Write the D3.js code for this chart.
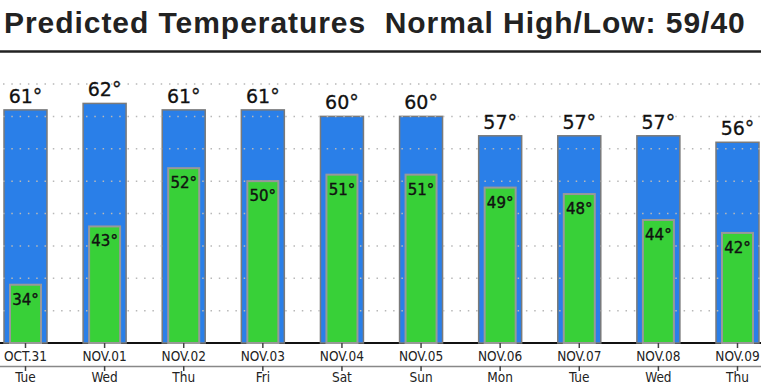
<!DOCTYPE html>
<html>
<head>
<meta charset="utf-8">
<script src="https://cdn.jsdelivr.net/npm/d3@7"></script>
<style>
  body { margin: 0; background: #fff; }
  svg { display: block; }
</style>
</head>
<body>
<div id="chart"></div>
<script>
// Chart data
const dates = ["OCT.31", "NOV.01", "NOV.02", "NOV.03", "NOV.04", "NOV.05", "NOV.06", "NOV.07", "NOV.08", "NOV.09"];
const days = ["Tue", "Wed", "Thu", "Fri", "Sat", "Sun", "Mon", "Tue", "Wed", "Thu"];
const highs = [61, 62, 61, 61, 60, 60, 57, 57, 57, 56];
const lows = [34, 43, 52, 50, 51, 51, 49, 48, 44, 42];
const gridTicks = [30, 35, 40, 45, 50, 55, 60, 65];

const width = 761, height = 385;
const baseY = 343;

const svg = d3.select("#chart")
    .append("svg")
    .attr("width", width)
    .attr("height", height);

// Title
svg.append("text")
    .attr("x", 4)
    .attr("y", 33)
    .attr("font-family", "Liberation Sans, Arial, sans-serif")
    .attr("font-weight", "bold")
    .attr("font-size", 30)
    .attr("letter-spacing", 0.95)
    .attr("fill", "#222")
    .attr("xml:space", "preserve")
    .text("Predicted Temperatures  Normal High/Low: 59/40");

svg.append("line")
    .attr("x1", 0).attr("x2", width)
    .attr("y1", 51.5).attr("y2", 51.5)
    .attr("stroke", "#222")
    .attr("stroke-width", 2.5);

// Scales
const x = d3.scalePoint()
    .domain(d3.range(dates.length))
    .range([25.5, 737.5]);

const y = d3.scaleLinear()
    .domain([25, 65])
    .range([baseY, 84]);

const blueW = 43, greenW = 31;

// Baseline (black)
svg.append("line")
    .attr("x1", 0).attr("x2", width)
    .attr("y1", baseY).attr("y2", baseY)
    .attr("stroke", "#111")
    .attr("stroke-width", 2);

// High bars
svg.selectAll(".high")
    .data(highs)
    .enter()
    .append("rect")
    .attr("class", "high")
    .attr("x", (d, i) => x(i) - blueW / 2)
    .attr("y", d => y(d))
    .attr("width", blueW)
    .attr("height", d => baseY - y(d))
    .attr("fill", "#2a7fe8")
    .attr("stroke", "#7a7a7a")
    .attr("stroke-width", 1.5);

// Dotted grid
svg.selectAll(".grid")
    .data(gridTicks)
    .enter()
    .append("line")
    .attr("class", "grid")
    .attr("x1", 3).attr("x2", width)
    .attr("y1", d => y(d)).attr("y2", d => y(d))
    .attr("stroke", "#b8b8b8")
    .attr("stroke-width", 1.5)
    .attr("stroke-dasharray", "1.5,6.8");

// Low bars
svg.selectAll(".low")
    .data(lows)
    .enter()
    .append("rect")
    .attr("class", "low")
    .attr("x", (d, i) => x(i) - greenW / 2)
    .attr("y", d => y(d))
    .attr("width", greenW)
    .attr("height", d => baseY - y(d))
    .attr("fill", "#38d038")
    .attr("stroke", "#999")
    .attr("stroke-width", 2);

// High labels
svg.selectAll(".hlabel")
    .data(highs)
    .enter()
    .append("text")
    .attr("x", (d, i) => x(i))
    .attr("y", d => y(d) - 7)
    .attr("text-anchor", "middle")
    .attr("font-family", "DejaVu Sans, sans-serif")
    .attr("font-size", 19)
    .attr("fill", "#111")
    .attr("stroke", "#111")
    .attr("stroke-width", 0.3)
    .text(d => d + "°");

// Low labels
svg.selectAll(".llabel")
    .data(lows)
    .enter()
    .append("text")
    .attr("x", (d, i) => x(i))
    .attr("y", d => y(d) + 20)
    .attr("text-anchor", "middle")
    .attr("font-family", "DejaVu Sans, sans-serif")
    .attr("font-size", 15)
    .attr("fill", "#111")
    .attr("stroke", "#111")
    .attr("stroke-width", 0.4)
    .text(d => d + "°");

// Ticks below baseline
svg.selectAll(".tick1")
    .data(dates)
    .enter()
    .append("line")
    .attr("x1", (d, i) => x(i)).attr("x2", (d, i) => x(i))
    .attr("y1", baseY).attr("y2", baseY + 5)
    .attr("stroke", "#444")
    .attr("stroke-width", 1.5);

// Date labels
svg.selectAll(".date")
    .data(dates)
    .enter()
    .append("text")
    .attr("x", (d, i) => x(i))
    .attr("y", 361)
    .attr("text-anchor", "middle")
    .attr("font-family", "DejaVu Sans Condensed, DejaVu Sans, sans-serif")
    .attr("font-stretch", "condensed")
    .attr("font-size", 13.5)
    .attr("fill", "#222")
    .text(d => d);

// Lower axis line with ticks
svg.append("line")
    .attr("x1", 0).attr("x2", width)
    .attr("y1", 366.5).attr("y2", 366.5)
    .attr("stroke", "#888")
    .attr("stroke-width", 1.5);

svg.selectAll(".tick2")
    .data(days)
    .enter()
    .append("line")
    .attr("x1", (d, i) => x(i)).attr("x2", (d, i) => x(i))
    .attr("y1", 366).attr("y2", 371)
    .attr("stroke", "#444")
    .attr("stroke-width", 1.5);

// Day labels
svg.selectAll(".day")
    .data(days)
    .enter()
    .append("text")
    .attr("x", (d, i) => x(i))
    .attr("y", 382)
    .attr("text-anchor", "middle")
    .attr("font-family", "DejaVu Sans Condensed, DejaVu Sans, sans-serif")
    .attr("font-stretch", "condensed")
    .attr("font-size", 13.5)
    .attr("fill", "#222")
    .text(d => d);
</script>
</body>
</html>
